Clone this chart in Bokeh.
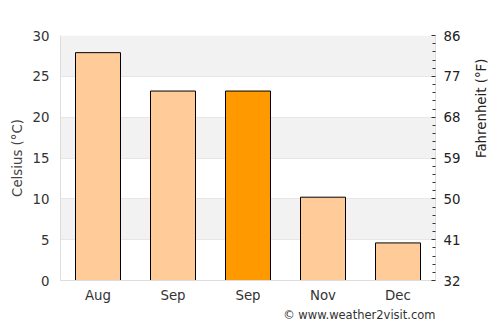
import math
from bokeh.plotting import figure
from bokeh.models import Range1d, LinearAxis, FixedTicker, Title
from bokeh.embed import file_html
from bokeh.resources import INLINE

months = ["Aug", "Sep", "Sep", "Nov", "Dec"]
celsius = [27.9, 23.2, 23.2, 10.2, 4.6]
highlight = [False, False, True, False, False]
c_ticks = [0, 5, 10, 15, 20, 25, 30]
f_ticks = [32, 41, 50, 59, 68, 77, 86]

xs = [i + 0.5 for i in range(len(months))]
colors = ["#FF9900" if h else "#FFCC99" for h in highlight]

FONT = "DejaVu Sans"

p = figure(width=500, height=325, output_backend="svg", toolbar_location=None,
           x_range=Range1d(0, len(months)), y_range=Range1d(0, 30),
           min_border_left=60, min_border_right=65, min_border_top=35,
           min_border_bottom=45)
p.outline_line_color = None
p.background_fill_color = "white"

p.vbar(x=xs, top=celsius, width=0.6, fill_color=colors, line_color="black", line_width=1)

# left axis
ya = p.yaxis[0]
ya.ticker = FixedTicker(ticks=c_ticks)
ya.axis_label = "Celsius (°C)"
ya.axis_label_text_font = FONT
ya.axis_label_text_font_style = "normal"
ya.axis_label_text_font_size = "10pt"
ya.axis_label_text_color = "#444444"
ya.major_label_text_font = FONT
ya.major_label_text_font_size = "10pt"
ya.major_label_text_color = "#333333"
ya.axis_line_color = "#dddddd"
ya.major_tick_line_color = None
ya.minor_tick_line_color = None

# x axis
xa = p.xaxis[0]
xa.ticker = FixedTicker(ticks=xs)
xa.major_label_overrides = {x: m for x, m in zip(xs, months)}
xa.major_label_text_font = FONT
xa.major_label_text_font_size = "10pt"
xa.major_label_text_color = "#333333"
xa.axis_line_color = "#dddddd"
xa.major_tick_line_color = None
xa.minor_tick_line_color = None
xa.major_tick_out = 0
xa.major_tick_in = 0
xa.major_label_standoff = 7

# right axis
p.extra_y_ranges = {"f": Range1d(32, 86)}
minor_f = [32 + 1.8 * i for i in range(31) if i % 5 != 0]
ra = LinearAxis(y_range_name="f", ticker=FixedTicker(ticks=f_ticks, minor_ticks=minor_f))
ra.axis_label = "Fahrenheit (°F)"
ra.axis_label_orientation = math.pi / 2
ra.axis_label_text_font = FONT
ra.axis_label_text_font_style = "normal"
ra.axis_label_text_font_size = "10pt"
ra.axis_label_text_color = "#222222"
ra.axis_label_standoff = 18
ra.major_label_text_font = FONT
ra.major_label_text_font_size = "10pt"
ra.major_label_text_color = "#222222"
ra.major_label_standoff = 8
ra.axis_line_color = "#dddddd"
ra.major_tick_in = 4
ra.major_tick_out = 0
ra.minor_tick_in = 3
ra.minor_tick_out = 0
ra.major_tick_line_color = "#333333"
ra.minor_tick_line_color = "#333333"
p.add_layout(ra, "right")

# grid
p.xgrid.grid_line_color = None
p.ygrid.ticker = FixedTicker(ticks=c_ticks)
p.ygrid.grid_line_color = "#e6e6e6"
p.ygrid.band_fill_color = "#f2f2f2"
p.ygrid.band_fill_alpha = 1.0

credit = Title(text="© www.weather2visit.com", align="right", text_font=FONT,
               text_font_size="11.5px", text_font_style="normal", text_color="#333333",
               standoff=0)
p.add_layout(credit, "below")

open("out.html", "w").write(file_html(p, INLINE))
